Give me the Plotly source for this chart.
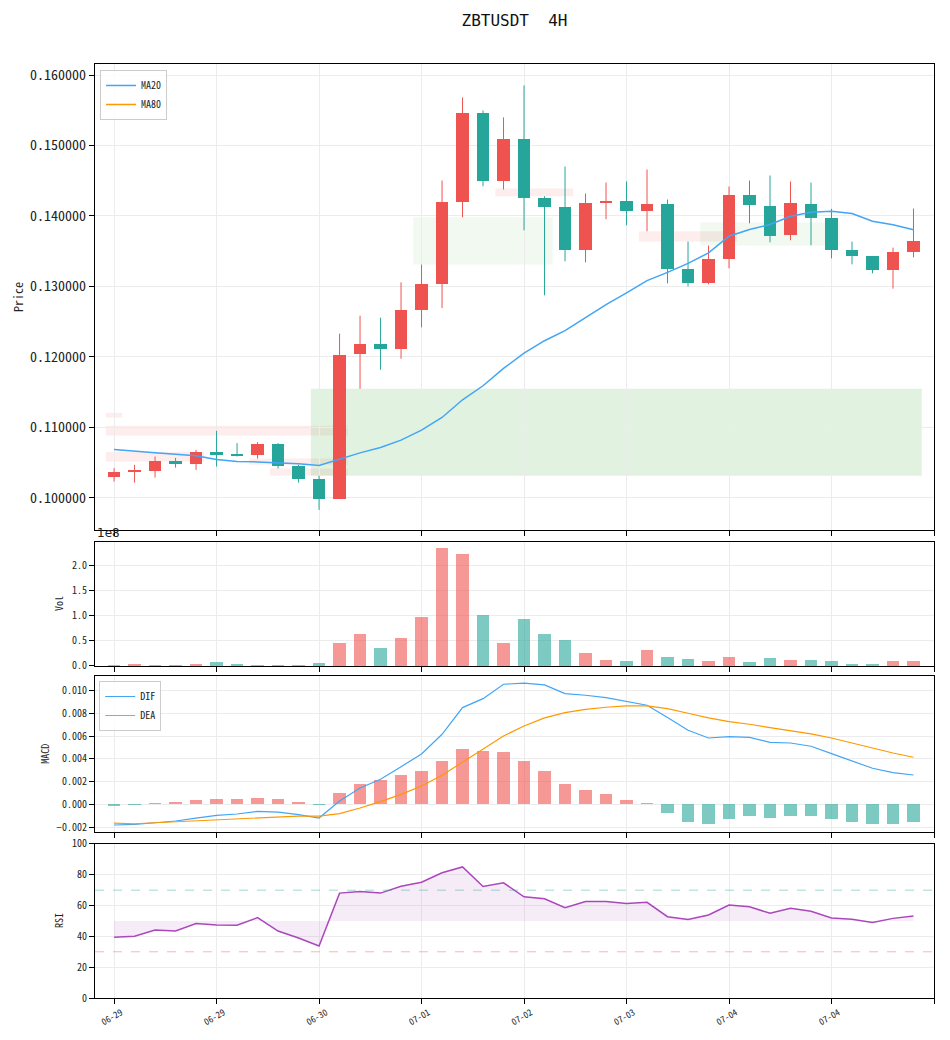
import plotly.graph_objects as go
from plotly.subplots import make_subplots

title = "ZBTUSDT  4H"
date_ticks = ["06-29", "06-29", "06-30", "07-01", "07-02", "07-03", "07-04", "07-04"]

# 4H candles
opens = [0.10294, 0.10365, 0.10388, 0.10521, 0.10487, 0.10649, 0.10625, 0.10607, 0.10763, 0.10450,
         0.10266, 0.09982, 0.12041, 0.12188, 0.12112, 0.12661, 0.13036, 0.14200, 0.15455, 0.14493,
         0.15095, 0.14261, 0.14129, 0.13513, 0.14186, 0.14214, 0.14072, 0.14172, 0.13249, 0.13050,
         0.13391, 0.14300, 0.14143, 0.13732, 0.14172, 0.13973, 0.13518, 0.13433, 0.13229, 0.13484]
highs = [0.10422, 0.10469, 0.10587, 0.10568, 0.10682, 0.10952, 0.10777, 0.10791, 0.10777, 0.10469,
         0.10313, 0.12330, 0.12585, 0.12557, 0.13058, 0.13310, 0.14503, 0.15682, 0.15497, 0.15398,
         0.15852, 0.14280, 0.14702, 0.14318, 0.14474, 0.14489, 0.14659, 0.14233, 0.13636, 0.13580,
         0.14418, 0.14503, 0.14574, 0.14489, 0.14474, 0.14101, 0.13636, 0.13433, 0.13551, 0.14105]
lows = [0.10232, 0.10217, 0.10288, 0.10430, 0.10398, 0.10445, 0.10587, 0.10558, 0.10416, 0.10217,
        0.09830, 0.09982, 0.11548, 0.11818, 0.11974, 0.12419, 0.12695, 0.13982, 0.14422, 0.14375,
        0.13797, 0.12874, 0.13357, 0.13342, 0.13953, 0.13868, 0.13783, 0.13044, 0.13001, 0.13030,
        0.13257, 0.13896, 0.13626, 0.13655, 0.13584, 0.13399, 0.13314, 0.13186, 0.12969, 0.13413]
closes = [0.10365, 0.10398, 0.10521, 0.10493, 0.10649, 0.10621, 0.10601, 0.10763, 0.10450, 0.10266,
          0.09982, 0.12031, 0.12188, 0.12112, 0.12670, 0.13040, 0.14200, 0.15455, 0.14493, 0.15095,
          0.14257, 0.14129, 0.13513, 0.14186, 0.14214, 0.14072, 0.14172, 0.13249, 0.13050, 0.13391,
          0.14300, 0.14158, 0.13717, 0.14186, 0.13973, 0.13513, 0.13428, 0.13229, 0.13490, 0.13646]

ma20 = [0.10686, 0.10658, 0.10639, 0.10621, 0.10597, 0.10545, 0.10516, 0.10511, 0.10501, 0.10483,
        0.10459, 0.10550, 0.10639, 0.10715, 0.10819, 0.10961, 0.11141, 0.11392, 0.11591, 0.11837,
        0.12055, 0.12230, 0.12372, 0.12557, 0.12741, 0.12908, 0.13082, 0.13200, 0.13328, 0.13476,
        0.13712, 0.13807, 0.13878, 0.13996, 0.14053, 0.14067, 0.14034, 0.13925, 0.13874, 0.13803]
ma80 = [None] * 40  # not enough history, only in legend

volume = [2e6, 4e6, 2e6, 2e6, 4e6, 8e6, 4e6, 2e6, 2e6, 2e6,
          6e6, 46e6, 64e6, 36e6, 56e6, 98e6, 236e6, 224e6, 102e6, 46e6,
          94e6, 64e6, 52e6, 26e6, 12e6, 10e6, 32e6, 18e6, 14e6, 10e6,
          18e6, 8e6, 16e6, 12e6, 12e6, 10e6, 4e6, 4e6, 10e6, 10e6]

dif = [-0.00182, -0.00176, -0.00162, -0.00147, -0.00121, -0.00097, -0.00085, -0.00062, -0.00068, -0.00091,
       -0.00121, 0.00029, 0.00144, 0.00221, 0.00332, 0.00444, 0.00618, 0.00853, 0.00932, 0.01059,
       0.01068, 0.01053, 0.00976, 0.00962, 0.00941, 0.00906, 0.00874, 0.00765, 0.00653, 0.00585,
       0.00597, 0.00591, 0.00547, 0.00541, 0.00512, 0.00447, 0.00385, 0.00318, 0.00279, 0.00259]
dea = [-0.00165, -0.00171, -0.00162, -0.00153, -0.00147, -0.00138, -0.00126, -0.00115, -0.00106, -0.00103,
       -0.00103, -0.00082, -0.00032, 0.00024, 0.00088, 0.00162, 0.00256, 0.00374, 0.00491, 0.00603,
       0.00691, 0.00762, 0.00809, 0.00838, 0.00856, 0.00868, 0.00868, 0.00844, 0.00803, 0.00762,
       0.00729, 0.00706, 0.00676, 0.00650, 0.00621, 0.00585, 0.00541, 0.00494, 0.00453, 0.00415]
macd_hist = [-0.00015, -0.00006, 0.00009, 0.00018, 0.00035, 0.00044, 0.00044, 0.00053, 0.00044, 0.00018,
             -0.00006, 0.00097, 0.00176, 0.00212, 0.00256, 0.00291, 0.00379, 0.00485, 0.00468, 0.00459,
             0.00379, 0.00291, 0.00176, 0.00124, 0.00088, 0.00035, 0.00009, -0.00079, -0.00159, -0.00176,
             -0.00132, -0.00106, -0.00124, -0.00106, -0.00106, -0.00132, -0.00159, -0.00176, -0.00176, -0.00159]

rsi = [39.4, 40.1, 44.2, 43.5, 48.3, 47.4, 47.2, 52.2, 43.5, 39.0,
       33.8, 68.1, 69.2, 68.1, 72.6, 75.2, 81.3, 85.1, 72.4, 74.8,
       65.7, 64.4, 58.6, 62.7, 62.7, 61.4, 62.1, 52.8, 50.9, 53.9,
       60.3, 59.3, 55.0, 58.2, 56.3, 51.9, 51.1, 49.1, 51.7, 53.2]

# fair value gaps: first candle, last candle, bottom, top, kind, still open
fvg_start = [0, 0, 0, 7, 8, 10, 15, 19, 26, 29]
fvg_end = [0, 11, 4, 11, 11, 39, 21, 22, 30, 35]
fvg_bottom = [0.11141, 0.10885, 0.10516, 0.10469, 0.10317, 0.10313, 0.13310, 0.14280, 0.13636, 0.13580]
fvg_top = [0.11207, 0.11023, 0.10653, 0.10558, 0.10416, 0.11548, 0.13982, 0.14389, 0.13783, 0.13906]
fvg_kind = ["bear", "bear", "bear", "bear", "bear", "bull", "bull", "bear", "bear", "bull"]
fvg_open = [False, False, False, False, False, True, False, False, False, False]

UP = "#ef5350"
DOWN = "#26a69a"
MONO = "Noto Sans Mono CJK SC, DejaVu Sans Mono, monospace"

idx = list(range(len(closes)))
up = [c >= o for o, c in zip(opens, closes)]

fig = make_subplots(rows=4, cols=1, vertical_spacing=0.01)

# candle wicks
for flag, col in [(True, UP), (False, DOWN)]:
    wx, wy = [], []
    for i in idx:
        if up[i] == flag:
            wx += [i, i, None]
            wy += [lows[i], highs[i], None]
    fig.add_trace(go.Scatter(x=wx, y=wy, mode="lines", line=dict(color=col, width=1),
                             showlegend=False, hoverinfo="skip"), row=1, col=1)

# candle bodies
fig.add_trace(go.Bar(
    x=idx,
    y=[abs(c - o) for o, c in zip(opens, closes)],
    base=[min(o, c) for o, c in zip(opens, closes)],
    width=0.62,
    marker=dict(color=[UP if u else DOWN for u in up], line=dict(width=0)),
    showlegend=False,
), row=1, col=1)

fig.add_trace(go.Scatter(x=idx, y=ma20, mode="lines", name="MA20",
                         line=dict(color="#42a5f5", width=1.5), legend="legend"), row=1, col=1)
fig.add_trace(go.Scatter(x=idx, y=ma80, mode="lines", name="MA80",
                         line=dict(color="#ff9800", width=1.5), legend="legend"), row=1, col=1)

for s, e, b, t, k, o in zip(fvg_start, fvg_end, fvg_bottom, fvg_top, fvg_kind, fvg_open):
    if k == "bull":
        fill = "rgba(76,175,80,0.17)" if o else "rgba(76,175,80,0.08)"
    else:
        fill = "rgba(239,83,80,0.10)"
    fig.add_shape(type="rect", x0=s - 0.4, x1=e + 0.4, y0=b, y1=t, xref="x", yref="y",
                  fillcolor=fill, line=dict(width=0), layer="below")

# volume
fig.add_trace(go.Bar(x=idx, y=volume, width=0.6,
                     marker=dict(color=["rgba(239,83,80,0.6)" if u else "rgba(38,166,154,0.6)" for u in up],
                                 line=dict(width=0)),
                     showlegend=False), row=2, col=1)

# macd
fig.add_hline(y=0, line=dict(color="#e3e3e3", width=2), row=3, col=1)
fig.add_trace(go.Bar(x=idx, y=macd_hist, width=0.6,
                     marker=dict(color=["rgba(239,83,80,0.6)" if h >= 0 else "rgba(38,166,154,0.6)" for h in macd_hist],
                                 line=dict(width=0)),
                     showlegend=False), row=3, col=1)
fig.add_trace(go.Scatter(x=idx, y=dif, mode="lines", name="DIF",
                         line=dict(color="#42a5f5", width=1.2), legend="legend2"), row=3, col=1)
fig.add_trace(go.Scatter(x=idx, y=dea, mode="lines", name="DEA",
                         line=dict(color="#ff9800", width=1.2), legend="legend2"), row=3, col=1)

# rsi
fig.add_trace(go.Scatter(x=idx, y=[50] * len(idx), mode="lines", line=dict(width=0),
                         showlegend=False, hoverinfo="skip"), row=4, col=1)
fig.add_trace(go.Scatter(x=idx, y=rsi, mode="lines", fill="tonexty",
                         fillcolor="rgba(171,71,188,0.1)",
                         line=dict(color="#ab47bc", width=1.5), showlegend=False), row=4, col=1)
fig.add_hline(y=70, line=dict(color="rgba(38,166,154,0.55)", width=0.8, dash="dash"), row=4, col=1)
fig.add_hline(y=30, line=dict(color="rgba(239,83,80,0.55)", width=0.8, dash="dash"), row=4, col=1)

# axes
axis_common = dict(showline=True, mirror=True, linecolor="black", linewidth=1.2,
                   ticks="outside", ticklen=5, tickcolor="black", automargin=False,
                   showgrid=True, gridcolor="#ececec", gridwidth=0.8, zeroline=False)
tickvals = list(range(0, 45, 5))
for r in range(1, 5):
    fig.update_xaxes(range=[-0.93, 40.0], tickvals=tickvals,
                     ticktext=date_ticks + [""], showticklabels=(r == 4),
                     tickangle=-30, ticklabelshift=7,
                     tickfont=dict(family=MONO, size=9, color="#222"),
                     row=r, col=1, **axis_common)

fig.update_yaxes(range=[0.09545, 0.16156], tickvals=[0.10, 0.11, 0.12, 0.13, 0.14, 0.15, 0.16],
                 tickformat=".6f", tickfont=dict(family=MONO, size=14, color="#222"),
                 row=1, col=1, **axis_common)
fig.update_yaxes(range=[0, 2.473e8], tickvals=[0, 0.5e8, 1e8, 1.5e8, 2e8],
                 ticktext=["0.0", "0.5", "1.0", "1.5", "2.0"],
                 tickfont=dict(family=MONO, size=10, color="#222"), row=2, col=1, **axis_common)
fig.update_yaxes(range=[-0.00244, 0.01132], tickvals=[-0.002, 0, 0.002, 0.004, 0.006, 0.008, 0.010],
                 tickformat=".3f", tickfont=dict(family=MONO, size=10, color="#222"),
                 row=3, col=1, **axis_common)
fig.update_yaxes(range=[0, 100], dtick=20, tickfont=dict(family=MONO, size=10, color="#222"),
                 row=4, col=1, **axis_common)

fig.update_layout(
    yaxis=dict(domain=[0.5011, 1.0]),
    yaxis2=dict(domain=[0.3555, 0.4882]),
    yaxis3=dict(domain=[0.1777, 0.3448]),
    yaxis4=dict(domain=[0.0, 0.1649]),
)

# y titles and offset text
for text, y, x, size in [("Price", 0.7505, -0.093, 12), ("Vol", 0.4218, -0.044, 10),
                         ("MACD", 0.2612, -0.061, 10), ("RSI", 0.0824, -0.044, 10)]:
    fig.add_annotation(text=text, x=x, y=y, xref="paper", yref="paper", showarrow=False,
                       xanchor="center", yanchor="middle", textangle=-90,
                       font=dict(family=MONO, size=size, color="#222"))
fig.add_annotation(text="1e8", x=0, y=0.4979, xref="paper", yref="paper", showarrow=False,
                   xanchor="left", yanchor="middle", font=dict(family="DejaVu Sans", size=12, color="#222"))

legend_style = dict(bgcolor="rgba(255,255,255,0.85)", bordercolor="#cccccc", borderwidth=1,
                    traceorder="normal", font=dict(family=MONO, size=10, color="#222"),
                    xanchor="left", yanchor="top")
# page body adds an 8px offset, margins are set so the plot lands where the reference has it
fig.update_layout(
    width=950, height=1040,
    margin=dict(l=87, r=24, t=56, b=50),
    paper_bgcolor="white", plot_bgcolor="white",
    bargap=0,
    title=dict(text=title, x=0.5, xref="paper", y=1 - 12 / 1040, yanchor="middle",
               font=dict(family="DejaVu Sans Mono", size=16, color="#111")),
    legend=dict(x=0.006, y=0.9936, **legend_style),
    legend2=dict(x=0.005, y=0.3394, **legend_style),
)

fig.write_html("out.html")
